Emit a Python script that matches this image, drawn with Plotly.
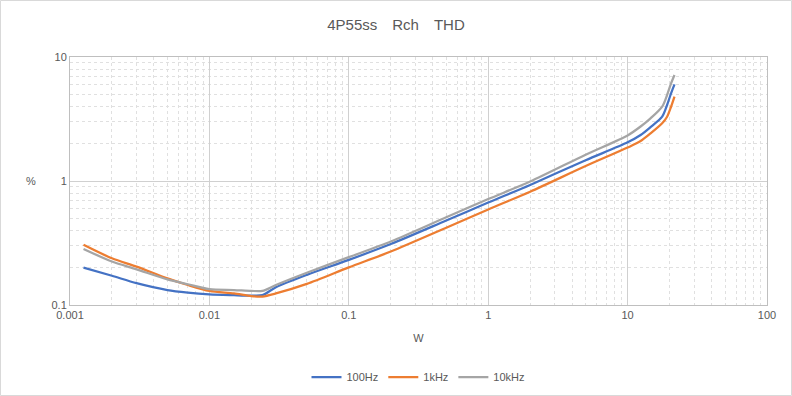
import plotly.graph_objects as go

x_w = [0.00125, 0.002, 0.003, 0.005, 0.007, 0.01, 0.015, 0.02, 0.024, 0.03, 0.05,
       0.1, 0.2, 0.5, 1, 2, 5, 10, 12.4, 14.6, 17.7, 19.2, 20.5, 21.7]

thd_100hz = [0.20, 0.172, 0.15, 0.132, 0.126, 0.122, 0.12, 0.119, 0.12, 0.139, 0.175,
             0.231, 0.31, 0.48, 0.67, 0.93, 1.47, 2.05, 2.35, 2.72, 3.3, 4.1, 5.1, 6.02]
thd_1khz = [0.306, 0.238, 0.204, 0.164, 0.145, 0.13, 0.124, 0.118, 0.117, 0.124, 0.148,
            0.201, 0.27, 0.42, 0.59, 0.82, 1.32, 1.86, 2.1, 2.42, 2.92, 3.3, 3.97, 4.79]
thd_10khz = [0.283, 0.224, 0.194, 0.161, 0.147, 0.134, 0.132, 0.13, 0.13, 0.145, 0.182,
             0.243, 0.325, 0.51, 0.715, 0.99, 1.63, 2.33, 2.75, 3.2, 3.98, 4.94, 6.13, 7.16]

series_names = ["100Hz", "1kHz", "10kHz"]
series_colors = ["#4472C4", "#ED7D31", "#A5A5A5"]

x_tickvals = [0.001, 0.01, 0.1, 1, 10, 100]
x_ticktext = ["0.001", "0.01", "0.1", "1", "10", "100"]
y_tickvals = [0.1, 1, 10]
y_ticktext = ["0.1", "1", "10"]

FONT = "Liberation Sans, Arial, sans-serif"
TXT = "#595959"

fig = go.Figure()
for name, ys, col in zip(series_names, [thd_100hz, thd_1khz, thd_10khz], series_colors):
    fig.add_trace(go.Scatter(x=x_w, y=ys, name=name, mode="lines",
                             line=dict(color=col, width=2.25, shape="spline", smoothing=0.8)))

minor = dict(dtick="D1", showgrid=True, gridcolor="#e0e0e0", griddash="dot", gridwidth=1, ticks="")

fig.update_xaxes(type="log", range=[-3, 2], tickvals=x_tickvals, ticktext=x_ticktext,
                 showgrid=True, gridcolor="#d0d0d0", gridwidth=1,
                 showline=True, linecolor="#bfbfbf", linewidth=1, mirror=True,
                 zeroline=False, ticks="", tickfont=dict(size=11, color=TXT, family=FONT),
                 minor=minor,
                 title=dict(text="W", font=dict(size=11, color=TXT, family=FONT), standoff=14))
fig.update_yaxes(type="log", range=[-1, 1], tickvals=y_tickvals, ticktext=y_ticktext,
                 showgrid=True, gridcolor="#d0d0d0", gridwidth=1,
                 showline=True, linecolor="#bfbfbf", linewidth=1, mirror=True,
                 zeroline=False, ticks="", tickfont=dict(size=11, color=TXT, family=FONT),
                 minor=minor)

fig.add_annotation(text="%", xref="paper", yref="paper", x=-46/697, y=0.5,
                   showarrow=False, font=dict(size=11, color=TXT, family=FONT))

fig.add_shape(type="rect", xref="paper", yref="paper",
              x0=-69.5/697, x1=721.5/697, y0=-90.5/248, y1=1 + 56.5/248,
              line=dict(color="#d9d9d9", width=1), layer="below")

fig.update_layout(
    width=792, height=396,
    margin=dict(l=70, r=25, t=57, b=91, autoexpand=False),
    paper_bgcolor="white", plot_bgcolor="white",
    title=dict(text="4P55ss\u3000Rch\u3000THD", x=0.5, xanchor="center", y=1 - 25/396, yanchor="middle",
               font=dict(size=15, color=TXT, family=FONT)),
    legend=dict(orientation="h", x=0.5, xanchor="center", y=-72/248, yanchor="middle",
                font=dict(size=11, color=TXT, family=FONT), itemwidth=30),
    showlegend=True,
)

fig.write_html("out.html", config={"displayModeBar": False},
               post_script="document.body.style.margin='0';")
